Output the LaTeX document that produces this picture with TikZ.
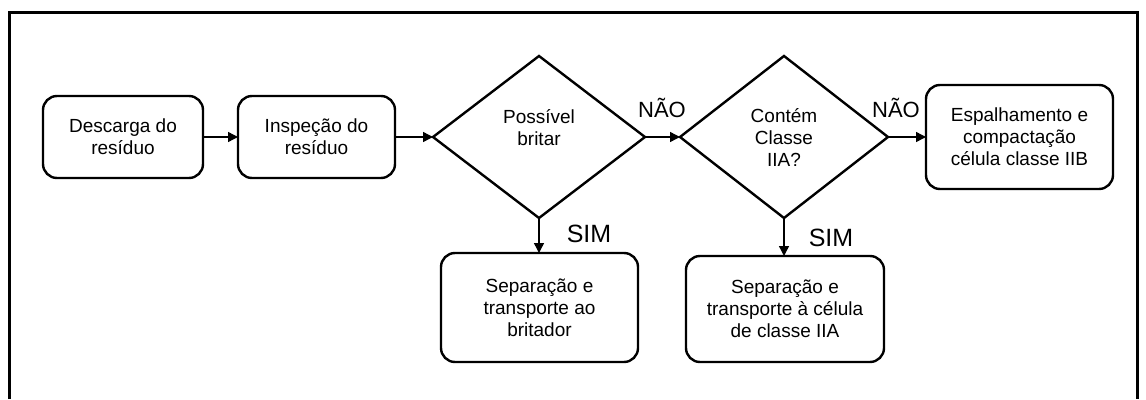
\documentclass[tikz,border=0pt]{standalone}
\usepackage{fontspec}
\setmainfont{Liberation Sans}
\usetikzlibrary{shapes.geometric,arrows.meta}
\begin{document}
\begin{tikzpicture}[x=1pt,y=-1pt,
  proc/.style={draw,line width=2.4pt,rounded corners=14pt,align=center,inner sep=0pt,outer sep=0pt,
    font=\fontsize{19}{22}\selectfont},
  dec/.style={draw,diamond,line width=2.4pt,align=center,inner sep=0pt,outer sep=0pt,
    font=\fontsize{19}{22}\selectfont},
  dtext/.style={font=\fontsize{19}{22}\selectfont,align=center,inner sep=0pt},
  arr/.style={line width=1.4pt,-{Triangle[length=10pt,width=10pt]}},
  lab/.style={font=\fontsize{22}{26}\selectfont,inner sep=0pt},
  labs/.style={font=\fontsize{25}{28}\selectfont,inner sep=0pt}]
\useasboundingbox (0,0) rectangle (1146,399);
\draw[line width=3.2pt] (9.5,399) -- (9.5,12.5) -- (1137.5,12.5) -- (1137.5,399);

\node[proc,minimum width=160pt,minimum height=82pt] (b1) at (123,137) {Descarga do\\resíduo};
\node[proc,minimum width=157pt,minimum height=82pt] (b2) at (316.5,137) {Inspeção do\\resíduo};
\node[dec,minimum width=212pt,minimum height=162pt] (d1) at (539,137) {};
\node[dtext] (t1) at (539,128) {Possível\\britar};
\node[dec,minimum width=208pt,minimum height=162pt] (d2) at (784,137) {};
\node[dtext] (t2) at (784,138) {Contém\\Classe\\IIA?};
\node[proc,minimum width=187pt,minimum height=104pt] (b3) at (1019.5,137) {Espalhamento e\\compactação\\célula classe IIB};
\node[proc,minimum width=197pt,minimum height=109pt] (b4) at (539.5,307.5) {Separação e\\transporte ao\\britador};
\node[proc,minimum width=198pt,minimum height=106pt] (b5) at (785,309) {Separação e\\transporte à célula\\de classe IIA};

\draw[arr] (b1) -- (b2);
\draw[arr] (b2) -- (d1.west);
\draw[arr] (d1.east) -- (d2.west);
\draw[arr] (d2.east) -- (b3.west |- d2.east);
\draw[arr] (d1.south) -- (d1.south |- b4.north);
\draw[arr] (d2.south) -- (d2.south |- b5.north);

\node[lab] (n1) at (662,108) {NÃO};
\node[lab] (n2) at (896,108) {NÃO};
\node[labs] (s1) at (589,234) {SIM};
\node[labs] (s2) at (831,238) {SIM};
\end{tikzpicture}
\end{document}
